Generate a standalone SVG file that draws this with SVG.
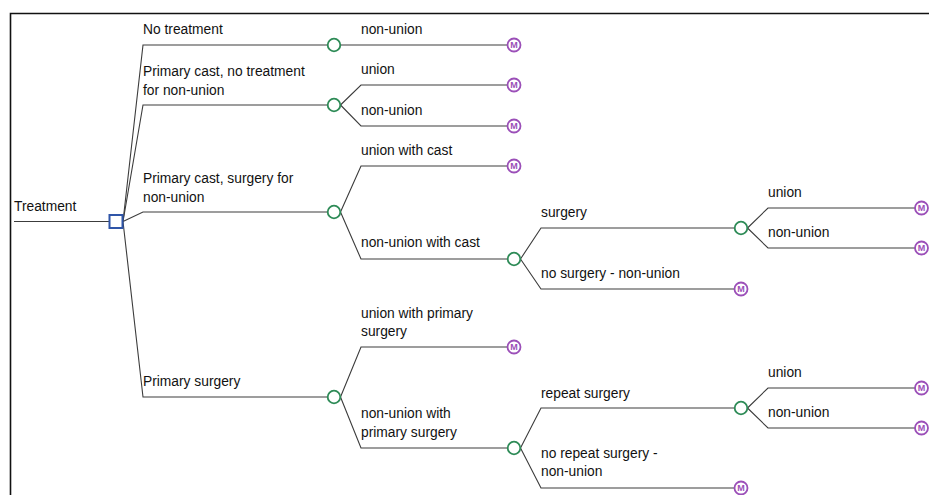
<svg xmlns="http://www.w3.org/2000/svg" width="929" height="495" viewBox="0 0 929 495">
<style>
.t{font-family:"Liberation Sans",Arial,sans-serif;font-size:13.8px;fill:#111}
.e{fill:none;stroke:#3c3c3c;stroke-width:1.1}
.c{fill:#fff;stroke:#2e8b57;stroke-width:1.8}
.d{fill:#fff;stroke:#2f55a8;stroke-width:2}
.m{fill:#fff;stroke:#9b4fb8;stroke-width:1.8}
.mt{font-family:"Liberation Sans",Arial,sans-serif;font-size:9px;font-weight:bold;fill:#9b4fb8;text-anchor:middle}
</style>
<rect width="929" height="495" fill="#fff"/>
<path d="M10.5 495 V13.5 H929" fill="none" stroke="#111" stroke-width="1.6"/>
<g id="connectors">
<path class="e" d="M14 221.5 H109"/>
<path class="e" d="M123 221.5 L143 45 H327.5"/>
<path class="e" d="M123 221.5 L143 105 H327.5"/>
<path class="e" d="M123 221.5 L143 212 H327.5"/>
<path class="e" d="M123 221.5 L143 397 H327.5"/>
<path class="e" d="M340.5 45 H507.5"/>
<path class="e" d="M340.5 105 L361 85 H507.5"/>
<path class="e" d="M340.5 105 L361 126 H507.5"/>
<path class="e" d="M340.5 212 L361 166 H507.5"/>
<path class="e" d="M340.5 212 L361 259 H507.5"/>
<path class="e" d="M520.5 259 L541 228 H734.5"/>
<path class="e" d="M520.5 259 L541 289 H734.5"/>
<path class="e" d="M747.5 228 L768 208 H915"/>
<path class="e" d="M747.5 228 L768 248 H915"/>
<path class="e" d="M340.5 397 L361 347 H507.5"/>
<path class="e" d="M340.5 397 L361 448 H507.5"/>
<path class="e" d="M520.5 448 L541 408 H734.5"/>
<path class="e" d="M520.5 448 L541 488 H734.5"/>
<path class="e" d="M747.5 408 L768 388 H915"/>
<path class="e" d="M747.5 408 L768 428 H915"/>
</g>
<g id="labels">
<text class="t" x="14" y="211">Treatment</text>
<text class="t" x="143" y="34">No treatment</text>
<text class="t" x="143" y="76">Primary cast, no treatment</text>
<text class="t" x="143" y="95">for non-union</text>
<text class="t" x="143" y="183">Primary cast, surgery for</text>
<text class="t" x="143" y="202">non-union</text>
<text class="t" x="143" y="386">Primary surgery</text>
<text class="t" x="361" y="34">non-union</text>
<text class="t" x="361" y="74">union</text>
<text class="t" x="361" y="115">non-union</text>
<text class="t" x="361" y="155">union with cast</text>
<text class="t" x="361" y="247">non-union with cast</text>
<text class="t" x="541" y="217">surgery</text>
<text class="t" x="541" y="278">no surgery - non-union</text>
<text class="t" x="768" y="197">union</text>
<text class="t" x="768" y="237">non-union</text>
<text class="t" x="361" y="318">union with primary</text>
<text class="t" x="361" y="336">surgery</text>
<text class="t" x="361" y="418">non-union with</text>
<text class="t" x="361" y="437">primary surgery</text>
<text class="t" x="541" y="398">repeat surgery</text>
<text class="t" x="541" y="458">no repeat surgery -</text>
<text class="t" x="541" y="476">non-union</text>
<text class="t" x="768" y="377">union</text>
<text class="t" x="768" y="417">non-union</text>
</g>
<g id="decision"><rect class="d" x="109.5" y="215" width="13" height="13"/></g>
<g id="chance1"><circle class="c" cx="334" cy="45" r="6.3"/></g>
<g id="chance2"><circle class="c" cx="334" cy="105" r="6.3"/></g>
<g id="chance3"><circle class="c" cx="334" cy="212" r="6.3"/></g>
<g id="chance4"><circle class="c" cx="514" cy="259" r="6.3"/></g>
<g id="chance5"><circle class="c" cx="741" cy="228" r="6.3"/></g>
<g id="chance6"><circle class="c" cx="334" cy="397" r="6.3"/></g>
<g id="chance7"><circle class="c" cx="514" cy="448" r="6.3"/></g>
<g id="chance8"><circle class="c" cx="741" cy="408" r="6.3"/></g>
<g id="term1"><circle class="m" cx="514" cy="45" r="6.5"/><text class="mt" x="514" y="48.2">M</text></g>
<g id="term2"><circle class="m" cx="514" cy="85" r="6.5"/><text class="mt" x="514" y="88.2">M</text></g>
<g id="term3"><circle class="m" cx="514" cy="126" r="6.5"/><text class="mt" x="514" y="129.2">M</text></g>
<g id="term4"><circle class="m" cx="514" cy="166" r="6.5"/><text class="mt" x="514" y="169.2">M</text></g>
<g id="term5"><circle class="m" cx="921.5" cy="208" r="6.5"/><text class="mt" x="921.5" y="211.2">M</text></g>
<g id="term6"><circle class="m" cx="921.5" cy="248" r="6.5"/><text class="mt" x="921.5" y="251.2">M</text></g>
<g id="term7"><circle class="m" cx="741" cy="289" r="6.5"/><text class="mt" x="741" y="292.2">M</text></g>
<g id="term8"><circle class="m" cx="514" cy="347" r="6.5"/><text class="mt" x="514" y="350.2">M</text></g>
<g id="term9"><circle class="m" cx="921.5" cy="388" r="6.5"/><text class="mt" x="921.5" y="391.2">M</text></g>
<g id="term10"><circle class="m" cx="921.5" cy="428" r="6.5"/><text class="mt" x="921.5" y="431.2">M</text></g>
<g id="term11"><circle class="m" cx="741" cy="488" r="6.5"/><text class="mt" x="741" y="491.2">M</text></g>
</svg>
